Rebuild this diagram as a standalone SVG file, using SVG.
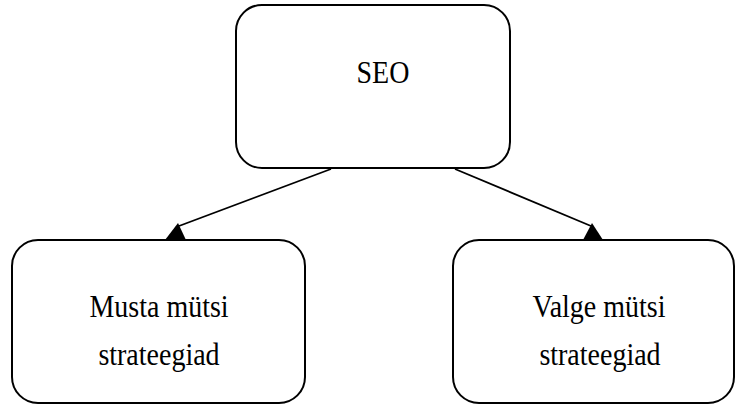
<svg xmlns="http://www.w3.org/2000/svg" width="736" height="405" viewBox="0 0 736 405">
<style>
.box{fill:#fff;stroke:#000;stroke-width:2}
.t{font-family:"Liberation Serif","Times New Roman",serif;font-size:28px;fill:#000;text-anchor:middle}
.c{stroke:#000;stroke-width:1.8;fill:none}
.h{fill:#000;stroke:none}
</style>
<rect width="736" height="405" fill="#fff"/>
<g id="connectors">
<line class="c" x1="331" y1="169" x2="179" y2="226"/>
<line class="c" x1="455" y1="169" x2="591" y2="226"/>
</g>
<g id="node-seo">
<rect class="box" x="236" y="5" width="274" height="163" rx="26" ry="26"/>
<text class="t" transform="matrix(1,0,0,1.1,383,83)">SEO</text>
</g>
<g id="node-musta">
<rect class="box" x="12" y="240" width="293" height="163" rx="26" ry="26"/>
<text class="t" transform="matrix(1,0,0,1.1,159,317)">Musta mütsi</text>
<text class="t" transform="matrix(1,0,0,1.1,159,365)">strateegiad</text>
</g>
<g id="node-valge">
<rect class="box" x="453" y="240" width="281" height="163" rx="26" ry="26"/>
<text class="t" transform="matrix(1,0,0,1.1,599,317)">Valge mütsi</text>
<text class="t" transform="matrix(1,0,0,1.1,600,365)">strateegiad</text>
</g>
<g id="arrowheads">
<polygon class="h" points="178,223 165,240 186,240"/>
<polygon class="h" points="592,223 583,240 603,240"/>
</g>
</svg>
